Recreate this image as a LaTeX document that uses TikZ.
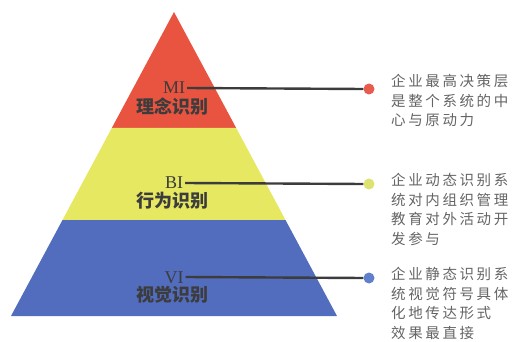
\documentclass[tikz,border=0pt]{standalone}
\usepackage{fontspec}
\newfontfamily\cjk{Noto Sans CJK SC}
\newfontfamily\cjkdesc[LetterSpace=18]{Noto Sans CJK SC}
\setmainfont{Liberation Serif}
\definecolor{redband}{RGB}{232,84,64}
\definecolor{yellowband}{RGB}{229,232,96}
\definecolor{blueband}{RGB}{82,108,190}
\definecolor{reddot}{RGB}{232,92,80}
\definecolor{yellowdot}{RGB}{222,226,112}
\definecolor{bluedot}{RGB}{96,128,204}
\definecolor{labelgray}{RGB}{60,60,60}
\definecolor{textgray}{RGB}{100,100,100}
\begin{document}
\begin{tikzpicture}[x=1pt,y=-1pt,
  code/.style={font=\fontsize{18}{18}\selectfont, text=labelgray, inner sep=0pt, text height=12pt, text depth=0pt},
  cname/.style={font=\cjk\bfseries\fontsize{18}{18}\selectfont, text=labelgray, inner sep=0pt, text height=14pt, text depth=1pt},
  dot/.style={circle, inner sep=0pt, minimum size=11pt},
  desc/.style={font=\cjkdesc\fontsize{14.5}{19.5}\selectfont, text=textgray, align=left, anchor=north west, inner sep=0pt},
  leader/.style={draw=labelgray, line width=2.4pt}]
\useasboundingbox (0,0) rectangle (517,342);
% pyramid bands
\fill[redband] (174,12) -- (236.2,128) -- (111.8,128) -- cycle;
\fill[yellowband] (111.8,128) -- (236.2,128) -- (285.5,220) -- (62.5,220) -- cycle;
\fill[blueband] (62.5,220) -- (285.5,220) -- (337,316) -- (11,316) -- cycle;
% labels
\node[code] (mi) at (174,88) {MI};
\node[cname] (mic) at (172,107) {理念识别};
\node[code] (bi) at (174,183) {BI};
\node[cname] (bic) at (172,201) {行为识别};
\node[code] (vi) at (174,277) {VI};
\node[cname] (vic) at (172,295) {视觉识别};
% dots
\node[dot, fill=reddot] (d1) at (369,89) {};
\node[dot, fill=yellowdot] (d2) at (369,184) {};
\node[dot, fill=bluedot] (d3) at (369,278) {};
% leaders
\draw[leader] ([xshift=2pt]mi.east) -- (d1.west);
\draw[leader] ([xshift=2pt]bi.east) -- (d2.west);
\draw[leader] ([xshift=2pt]vi.east) -- (d3.west);
% descriptions
\node[desc] (t1) at (391,74) {企业最高决策层\\是整个系统的中\\心与原动力};
\node[desc] (t2) at (391,173) {企业动态识别系\\统对内组织管理\\教育对外活动开\\发参与};
\node[desc] (t3) at (391,267) {企业静态识别系\\统视觉符号具体\\化地传达形式\\效果最直接};
\end{tikzpicture}
\end{document}
